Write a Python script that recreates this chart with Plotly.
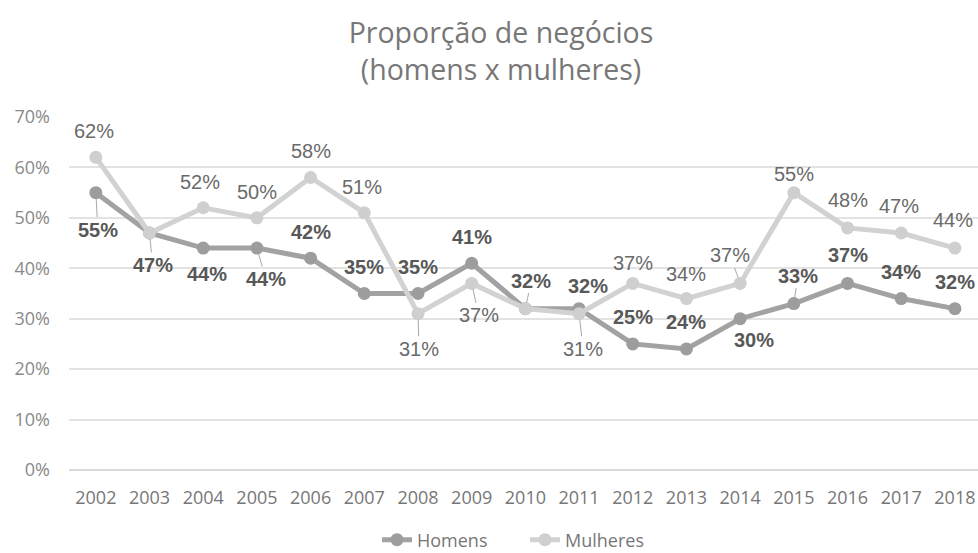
import plotly.graph_objects as go

years = [str(y) for y in range(2002, 2019)]
homens = [55, 47, 44, 44, 42, 35, 35, 41, 32, 32, 25, 24, 30, 33, 37, 34, 32]
mulheres = [62, 47, 52, 50, 58, 51, 31, 37, 32, 31, 37, 34, 37, 55, 48, 47, 44]
y_ticks = [0, 10, 20, 30, 40, 50, 60, 70]

# label placement (dx, dy in px relative to the point, leader line); None = hidden
homens_lbl = [(2, 37, True), (3, 32, True), (4, 26, False), (9, 31, True), (0, -26, False),
              (0, -27, False), (0, -27, False), (0, -26, False), (6, -28, True), (9, -23, False),
              (0, -27, False), (0, -27, False), (14, 21, False), (4, -28, True), (0, -28, False),
              (0, -27, False), (0, -27, False)]
mulheres_lbl = [(-2, -26, False), None, (-3, -26, False), (0, -26, False), (0, -27, False),
                (-2, -26, False), (1, 35, True), (7, 32, True), None, (4, 35, True),
                (0, -20, False), (0, -25, False), (-10, -28, True), (0, -19, False), (0, -28, False),
                (-2, -27, False), (-2, -28, False)]

C_H = "#a2a2a2"
C_M = "#d2d2d2"

fig = go.Figure()
fig.add_trace(go.Scatter(x=years, y=[v / 100 for v in homens], name="Homens",
                         mode="lines+markers", line=dict(color=C_H, width=5),
                         marker=dict(color="#9d9d9d", size=13)))
fig.add_trace(go.Scatter(x=years, y=[v / 100 for v in mulheres], name="Mulheres",
                         mode="lines+markers", line=dict(color=C_M, width=5),
                         marker=dict(color="#cfcfcf", size=13)))

annotations = []
for vals, lbls, bold, col in [(homens, homens_lbl, True, "#585858"),
                              (mulheres, mulheres_lbl, False, "#6a6a6a")]:
    for i, (v, lb) in enumerate(zip(vals, lbls)):
        if lb is None:
            continue
        dx, dy, lead = lb
        txt = f"<b>{v}%</b>" if bold else f"{v}%"
        base = dict(x=i, y=v / 100, xref="x", yref="y", text=txt,
                    font=dict(family="Liberation Sans, Arial", size=20, color=col))
        if lead:
            base.update(showarrow=True, arrowhead=0, arrowwidth=1, arrowcolor="#a8a8a8",
                        ax=dx, ay=dy, standoff=6)
        else:
            base.update(showarrow=False, xshift=dx, yshift=-dy)
        annotations.append(base)

fig.update_layout(
    width=978, height=553,
    paper_bgcolor="white", plot_bgcolor="white",
    margin=dict(l=69, r=0, t=117, b=83),
    title=dict(text="Proporção de negócios<br>(homens x mulheres)", x=501 / 978, xref="container",
               xanchor="center", y=1 - 43 / 553, yref="container", yanchor="middle",
               font=dict(family="Open Sans", size=28.5, color="#777777")),
    xaxis=dict(type="category", range=[-0.5, 16.43], showgrid=False, showline=False,
               ticks="", tickfont=dict(family="Open Sans", size=18, color="#777777"),
               ticklabelstandoff=15, automargin=False),
    yaxis=dict(range=[0, 0.7], tickvals=[t / 100 for t in y_ticks],
               ticktext=[f"{t}%" for t in y_ticks], showgrid=True, gridcolor="#e3e3e3",
               gridwidth=1.5, zeroline=True, zerolinecolor="#d9d9d9", zerolinewidth=1.5,
               tickfont=dict(family="Open Sans", size=18, color="#8a8a8a"),
               ticklabelstandoff=18, automargin=False),
    legend=dict(orientation="h", xref="container", x=377 / 978, xanchor="left",
                yref="container", y=1 - 540 / 553, yanchor="middle",
                font=dict(family="Open Sans", size=18, color="#777777"),
                itemwidth=30, entrywidth=103, entrywidthmode="pixels"),
    showlegend=True,
    annotations=annotations,
)

fig.write_html("out.html", post_script="document.body.style.margin='0';",
               config={"displayModeBar": False})
